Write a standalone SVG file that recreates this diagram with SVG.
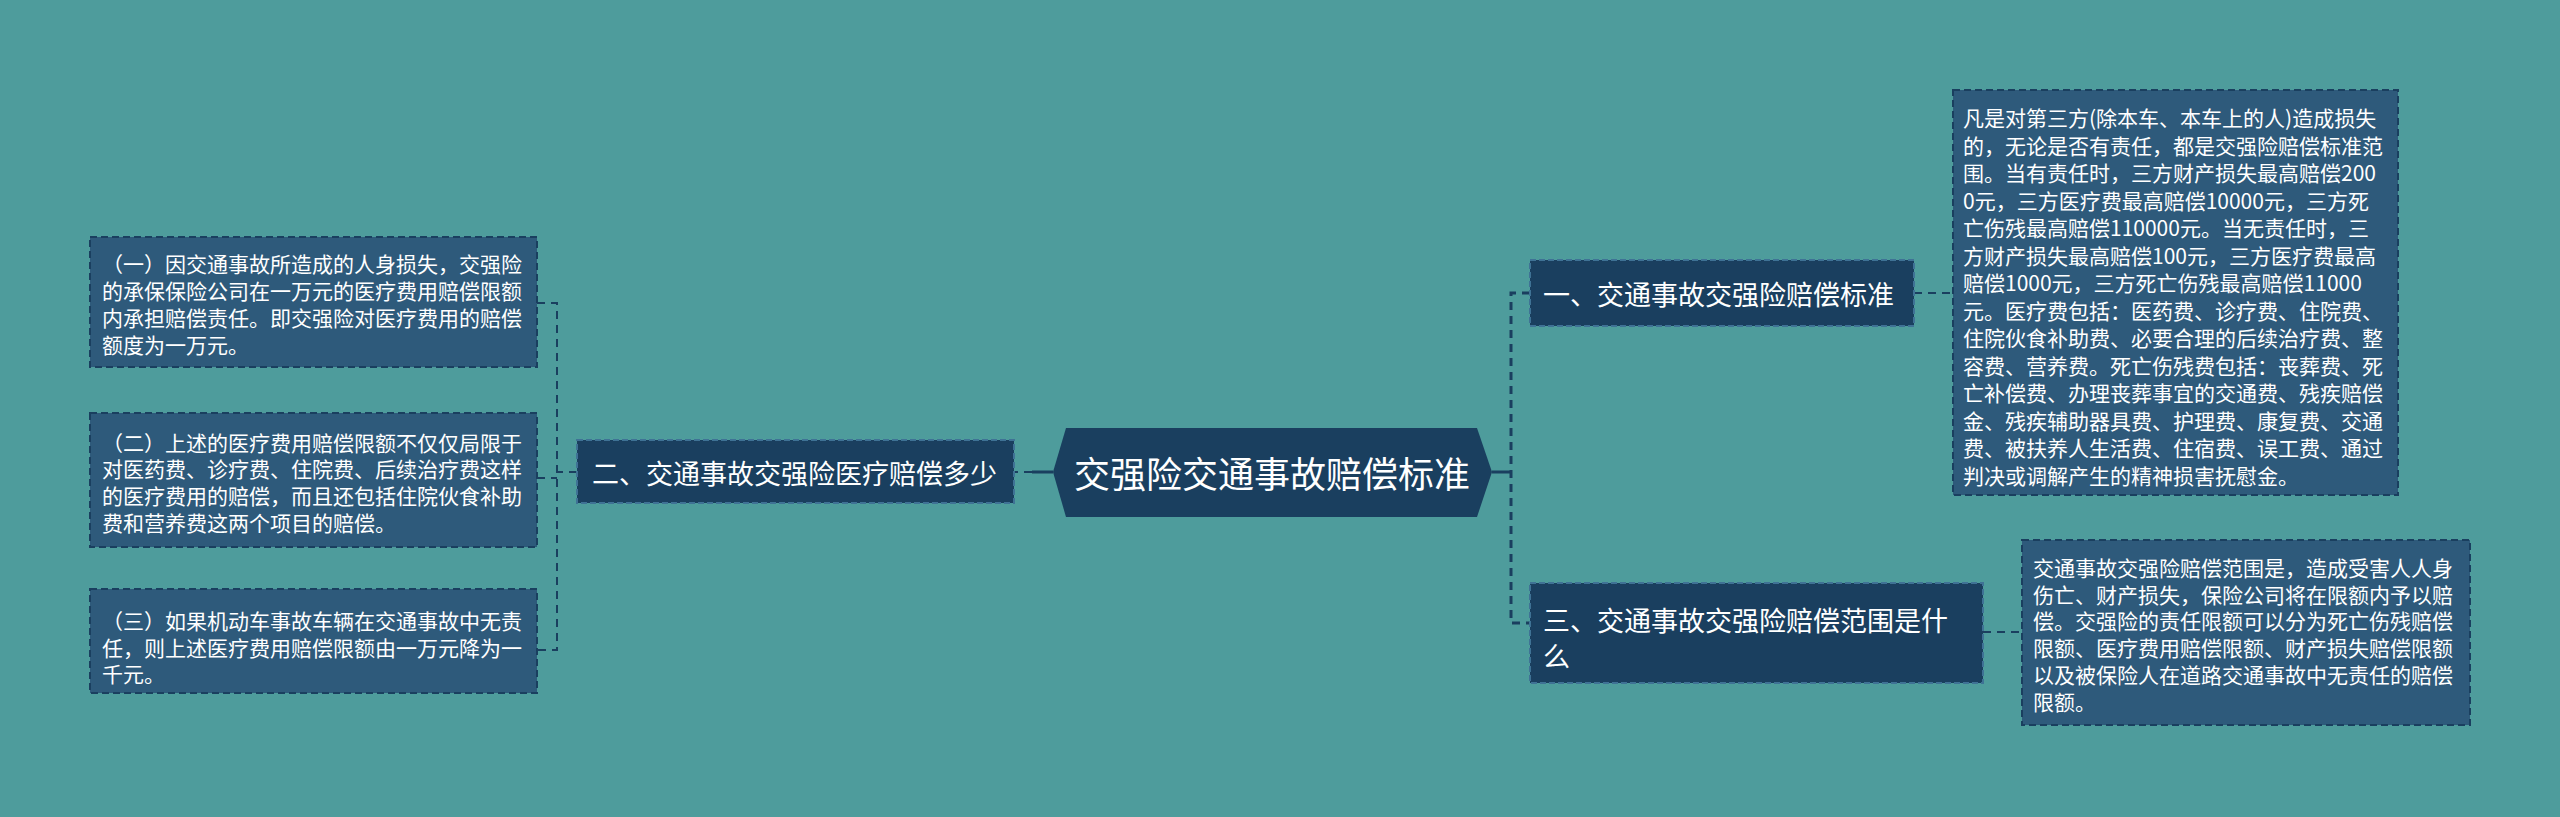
<svg xmlns="http://www.w3.org/2000/svg" width="2560" height="817" viewBox="0 0 2560 817">
<style>
.t{font-family:"Noto Sans CJK SC","Noto Sans",sans-serif;fill:#ffffff;dominant-baseline:central}
.node{fill:#1a3f5f;stroke:#3f7295;stroke-width:2;stroke-dasharray:6 3}
.detail{fill:#2e5a7b;stroke:#1a3f5f;stroke-width:2;stroke-dasharray:7 4}
.dash{fill:none;stroke:#1a3f5f;stroke-width:2;stroke-dasharray:8 6}
.dashR{fill:none;stroke:#1a3f5f;stroke-width:3;stroke-dasharray:8 6}
.solid{fill:none;stroke:#1a3f5f;stroke-width:3}
</style>
<rect x="0" y="0" width="2560" height="817" fill="#4e9c9c"/>
<g id="connectors">
<path class="solid" d="M1492 472 H1511"/>
<path class="dashR" d="M1530 293 H1511 V623 H1530"/>
<path class="dash" d="M1914 293 H1953"/>
<path class="dash" d="M1983 632 H2022"/>
<path class="solid" d="M1053 472 H1032"/>
<path class="dash" d="M1032 472 H1014"/>
<path class="dash" d="M577 472 H557"/>
<path class="dash" d="M537 303 H557 V650 H537"/>
<path class="dash" d="M537 478 H557"/>
</g>
<g id="root">
<polygon points="1053,472 1066,428 1477,428 1492,472 1477,517 1066,517" fill="#1a3f5f"/>
<text class="t" x="1272" y="472" font-size="36" text-anchor="middle">交强险交通事故赔偿标准</text>
</g>
<g id="n2">
<rect class="node" x="577" y="440" width="437" height="63"/>
<text class="t" x="592" y="472" font-size="27">二、交通事故交强险医疗赔偿多少</text>
</g>
<g id="n1">
<rect class="node" x="1530" y="260" width="384" height="66"/>
<text class="t" x="1543" y="293" font-size="27">一、交通事故交强险赔偿标准</text>
</g>
<g id="n3">
<rect class="node" x="1530" y="583" width="453" height="100"/>
<text class="t" x="1543" y="619" font-size="27">三、交通事故交强险赔偿范围是什</text>
<text class="t" x="1543" y="655" font-size="27">么</text>
</g>
<g id="d1">
<rect class="detail" x="1953" y="90" width="445" height="405"/>
<text class="t" font-size="21">
<tspan x="1963" y="117">凡是对第三方(除本车、本车上的人)造成损失</tspan>
<tspan x="1963" y="144.5">的，无论是否有责任，都是交强险赔偿标准范</tspan>
<tspan x="1963" y="172">围。当有责任时，三方财产损失最高赔偿200</tspan>
<tspan x="1963" y="199.5">0元，三方医疗费最高赔偿10000元，三方死</tspan>
<tspan x="1963" y="227">亡伤残最高赔偿110000元。当无责任时，三</tspan>
<tspan x="1963" y="254.5">方财产损失最高赔偿100元，三方医疗费最高</tspan>
<tspan x="1963" y="282">赔偿1000元，三方死亡伤残最高赔偿11000</tspan>
<tspan x="1963" y="309.5">元。医疗费包括：医药费、诊疗费、住院费、</tspan>
<tspan x="1963" y="337">住院伙食补助费、必要合理的后续治疗费、整</tspan>
<tspan x="1963" y="364.5">容费、营养费。死亡伤残费包括：丧葬费、死</tspan>
<tspan x="1963" y="392">亡补偿费、办理丧葬事宜的交通费、残疾赔偿</tspan>
<tspan x="1963" y="419.5">金、残疾辅助器具费、护理费、康复费、交通</tspan>
<tspan x="1963" y="447">费、被扶养人生活费、住宿费、误工费、通过</tspan>
<tspan x="1963" y="474.5">判决或调解产生的精神损害抚慰金。</tspan>
</text>
</g>
<g id="d3">
<rect class="detail" x="2022" y="540" width="448" height="185"/>
<text class="t" font-size="21">
<tspan x="2033" y="567">交通事故交强险赔偿范围是，造成受害人人身</tspan>
<tspan x="2033" y="594">伤亡、财产损失，保险公司将在限额内予以赔</tspan>
<tspan x="2033" y="620">偿。交强险的责任限额可以分为死亡伤残赔偿</tspan>
<tspan x="2033" y="647">限额、医疗费用赔偿限额、财产损失赔偿限额</tspan>
<tspan x="2033" y="674">以及被保险人在道路交通事故中无责任的赔偿</tspan>
<tspan x="2033" y="701">限额。</tspan>
</text>
</g>
<g id="l1">
<rect class="detail" x="90" y="237" width="447" height="130"/>
<text class="t" font-size="21">
<tspan x="102" y="263">（一）因交通事故所造成的人身损失，交强险</tspan>
<tspan x="102" y="290">的承保保险公司在一万元的医疗费用赔偿限额</tspan>
<tspan x="102" y="317">内承担赔偿责任。即交强险对医疗费用的赔偿</tspan>
<tspan x="102" y="344">额度为一万元。</tspan>
</text>
</g>
<g id="l2">
<rect class="detail" x="90" y="413" width="447" height="134"/>
<text class="t" font-size="21">
<tspan x="102" y="442">（二）上述的医疗费用赔偿限额不仅仅局限于</tspan>
<tspan x="102" y="468">对医药费、诊疗费、住院费、后续治疗费这样</tspan>
<tspan x="102" y="495">的医疗费用的赔偿，而且还包括住院伙食补助</tspan>
<tspan x="102" y="522">费和营养费这两个项目的赔偿。</tspan>
</text>
</g>
<g id="l3">
<rect class="detail" x="90" y="589" width="447" height="104"/>
<text class="t" font-size="21">
<tspan x="102" y="620">（三）如果机动车事故车辆在交通事故中无责</tspan>
<tspan x="102" y="647">任，则上述医疗费用赔偿限额由一万元降为一</tspan>
<tspan x="102" y="673">千元。</tspan>
</text>
</g>
</svg>
